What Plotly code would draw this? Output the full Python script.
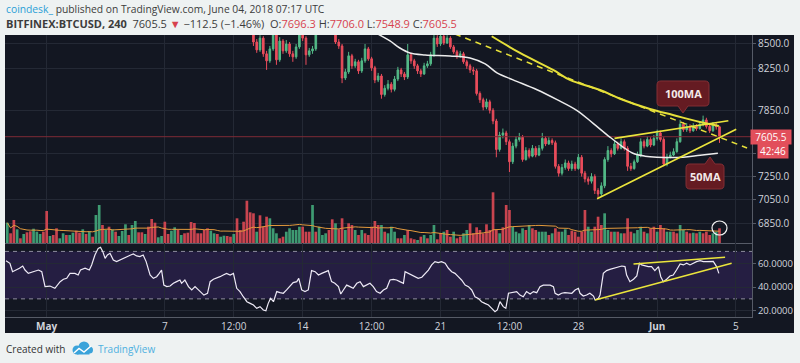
import numpy as np
import pandas as pd
import plotly.graph_objects as go
from plotly.subplots import make_subplots

W, H = 800, 363

# ---------------- data ----------------
# 4h bars, bar index 0 = May 1 2018 00:00 UTC
bar_start = 63
first_open = 8650
closes = [8520, 8440, 8560, 8400, 8330, 8450, 8600, 8340, 8530, 8430,
          8500, 8400, 8370, 8470, 8650, 8560, 8390, 8430, 8450, 8660,
          8720, 8760, 8800, 8750, 8700, 8520, 8480, 8160, 8220, 8380,
          8280, 8320, 8230, 8330, 8450, 8350, 8260, 8140, 8180, 8000,
          8060, 8100, 8050, 8150, 8240, 8200, 8170, 8390, 8330, 8280,
          8230, 8200, 8280, 8300, 8390, 8560, 8500, 8580, 8510, 8560,
          8470, 8420, 8380, 8400, 8320, 8280, 8240, 8230, 8010, 7950,
          7880, 7930, 7850, 7750, 7490, 7620, 7640, 7560, 7380, 7520,
          7580, 7600, 7400, 7480, 7430, 7500, 7440, 7500, 7590, 7540,
          7570, 7550, 7340, 7280, 7330, 7370, 7320, 7360, 7320, 7420,
          7280, 7230, 7210, 7250, 7130, 7100, 7170, 7400, 7480, 7450,
          7540, 7500, 7560, 7500, 7340, 7320, 7380, 7440, 7560, 7520,
          7580, 7530, 7590, 7640, 7580, 7360, 7420, 7440, 7470, 7560,
          7720, 7670, 7700, 7660, 7700, 7680, 7720, 7760, 7700, 7660,
          7710, 7696.3, 7605.5]
highs = [8700, 8550, 8590, 8580, 8430, 8480, 8640, 8620, 8570, 8550,
         8540, 8520, 8430, 8500, 8700, 8690, 8580, 8460, 8480, 8700,
         8760, 8800, 8850, 8830, 8780, 8720, 8550, 8500, 8250, 8420,
         8400, 8350, 8340, 8360, 8500, 8470, 8370, 8280, 8210, 8200,
         8090, 8140, 8120, 8180, 8270, 8260, 8220, 8500, 8410, 8350,
         8300, 8250, 8310, 8330, 8420, 8600, 8590, 8620, 8600, 8590,
         8580, 8490, 8440, 8430, 8420, 8340, 8300, 8270, 8250, 8030,
         7970, 7960, 7950, 7870, 7770, 7650, 7680, 7660, 7580, 7550,
         7610, 7640, 7620, 7510, 7500, 7530, 7520, 7530, 7640, 7610,
         7600, 7590, 7570, 7360, 7360, 7400, 7390, 7390, 7380, 7450,
         7440, 7300, 7250, 7280, 7270, 7150, 7200, 7420, 7520, 7500,
         7570, 7560, 7590, 7580, 7520, 7370, 7400, 7470, 7590, 7580,
         7610, 7600, 7620, 7670, 7660, 7600, 7450, 7470, 7500, 7590,
         7760, 7740, 7730, 7720, 7730, 7720, 7750, 7800, 7780, 7720,
         7740, 7740, 7706.0]
lows = [8480, 8410, 8420, 8370, 8240, 8310, 8430, 8290, 8320, 8400,
        8410, 8370, 8320, 8350, 8450, 8530, 8290, 8370, 8400, 8430,
        8640, 8700, 8740, 8720, 8670, 8500, 8450, 8110, 8140, 8200,
        8250, 8260, 8200, 8210, 8310, 8330, 8230, 8110, 8120, 7960,
        7980, 8040, 8020, 8030, 8130, 8170, 8140, 8150, 8300, 8250,
        8200, 8170, 8190, 8260, 8280, 8370, 8470, 8480, 8490, 8500,
        8450, 8400, 8350, 8360, 8300, 8250, 8210, 8190, 7990, 7920,
        7850, 7860, 7820, 7720, 7420, 7470, 7590, 7530, 7290, 7360,
        7500, 7560, 7380, 7390, 7410, 7420, 7420, 7430, 7480, 7520,
        7530, 7530, 7320, 7250, 7260, 7310, 7300, 7300, 7300, 7310,
        7250, 7200, 7180, 7190, 7100, 7060, 7080, 7150, 7380, 7420,
        7440, 7480, 7490, 7480, 7300, 7300, 7310, 7370, 7420, 7500,
        7510, 7510, 7520, 7570, 7560, 7340, 7340, 7410, 7430, 7460,
        7550, 7650, 7650, 7640, 7650, 7660, 7670, 7700, 7680, 7640,
        7650, 7670, 7548.9]

vol_start = -12
volumes = [10150, 4850, 11500, 6850, 2350, 4500, 5350, 5850, 7150, 5650,
           4500, 5650, 16000, 3500, 4000, 7350, 2350, 4850, 4000, 4000,
           5150, 6150, 5150, 6850, 4500, 5850, 3150, 14000, 19000, 9000,
           6500, 8150, 6850, 5650, 3500, 6000, 9350, 4000, 9000, 11000,
           5350, 5350, 4500, 8150, 12000, 10150, 2850, 3500, 10650, 4500,
           6150, 7850, 6500, 4000, 4850, 5150, 10500, 10000, 4850, 4850,
           6500, 7350, 6150, 4850, 4500, 3150, 3650, 3500, 3150, 4500,
           12350, 6500, 10650, 21150,
           15350, 14850, 5650, 13850, 8150, 13150, 12350, 7350, 4850, 2350,
           3150, 5650, 7350, 6500, 6500, 8150, 8150, 5650, 5650, 19000,
           5650, 8150, 4000, 4850, 6500, 11850, 9850, 6850, 12350, 6500,
           9850, 9000, 6500, 4000, 6500, 4850, 4000, 8150, 11000, 9000,
           9000, 5650, 4850, 8150, 5650, 2350, 2350, 4000, 6500, 2350,
           1850, 1500, 3150, 4000, 2350, 4000, 9000, 1850, 4850, 5650,
           6500, 3150, 5650, 2350, 3150, 4850, 6500, 9850, 4850, 7850,
           6500, 4850, 9350, 6500, 25350, 6500, 4850, 7850, 19000, 16500,
           8150, 5650, 4850,
           7350, 6500, 9000, 7350, 6500, 5650, 5650, 5650, 4000, 4850,
           7350, 5650, 5650, 6850, 4000, 6150, 5650, 3150, 5650, 16500,
           8150, 5650, 8150, 13150, 9000, 14850, 6500, 5650, 5650, 5650,
           4850, 4850, 12350, 5650, 4850, 6500, 8150, 5650, 4850, 7350,
           8150, 5650, 9000, 7350, 5650, 5650, 5650, 4850, 9000, 6500,
           5650, 4850, 5150, 4850, 5650, 4850, 5650, 4000, 4850, 5650,
           7350]
vol_dir = ("grrgrgrrgg" "grrgrrggrg" "grrgrgrggr" "grgrgggrgg" "rrgrrrggrr"
           "ggrgrrrrrr" "rrggrggrrg" "rrrr"
           "rrgrrrgggr" "rgggggrrrg" "rgggrrgrrg" "rrgrgrrrrr" "grgggrrgrr"
           "rgrgrggrrg" "rrgrrggrrr" "rrrrrrgrrr" "ggg"
           "grgrrgggrg" "rrggrrrrrr" "ggrrrggrgr" "grrrgggrgr" "rgrrggrrgg"
           "rrgrgrrrgg" "r")

rsi_bar = [-12.4, -11.2, -10.4, -9.2, -8.3, -7.3, -6.6, -5.6, -4.1, -2.5, -1.5, -0.5, 1.0, 2.5, 4.1,
           5.1, 6.1, 7.1, 8.6, 9.6, 10.3, 11.7, 13.0, 13.7, 14.7, 15.7, 16.4, 17.1, 17.8, 18.5,
           19.3, 20.3, 21.3, 22.3, 23.4, 24.4, 25.6, 26.4, 27.4, 28.4, 29.4, 30.3, 31.5, 32.5, 33.5,
           34.3, 35.0, 35.7, 36.6, 37.6, 38.6, 39.6, 40.6, 41.1, 42.1, 43.2, 44.2, 45.2, 46.2, 47.2,
           47.9, 49.0, 49.8, 50.8, 51.8, 52.8, 53.8, 54.8, 55.9, 56.9, 57.9, 58.9, 59.9, 61.0, 62.0,
           63.0, 64.0, 65.0, 66.0, 66.8, 67.5, 68.2, 69.1, 70.1, 71.1, 72.1, 73.1, 74.1, 75.1, 76.2,
           76.8, 77.7, 78.7, 79.7, 80.7, 81.8, 82.8, 83.8, 84.8, 85.8, 86.8, 87.8, 88.9, 89.6, 90.4,
           91.4, 92.4, 93.4, 94.5, 95.5, 96.5, 97.5, 98.5, 99.5, 100.5, 101.6, 102.6, 103.6, 104.6, 105.6,
           106.6, 107.6, 108.7, 109.2, 110.2, 111.2, 112.2, 113.2, 114.3, 115.3, 116.3, 117.3, 118.3, 119.3,
           120.3, 121.4, 122.4, 123.4, 124.4, 125.4, 126.4, 127.5, 128.5, 129.5, 130.5, 131.5, 132.5, 133.5,
           134.6, 135.6, 136.6, 137.3, 138.1, 139.1, 139.9, 140.7, 142.2, 143.2, 144.2, 145.2, 146.2, 147.3,
           148.3, 149.3, 150.3, 151.3, 152.3, 153.4, 154.4, 154.9, 155.9, 156.9, 157.9, 158.9, 160.0, 161.0,
           162.0, 162.5, 163.5, 164.5, 165.5, 166.6, 167.1, 168.1, 168.6, 169.6, 170.6, 171.6, 172.7, 174.2,
           175.2, 176.2, 176.7, 177.7, 178.8, 179.8, 180.6, 181.3, 182.3, 183.3, 184.3, 185.3, 186.4, 187.1,
           187.9, 188.9, 189.9, 190.9, 191.9, 193.0, 194.0, 195.0, 196.0, 197.0, 198.0, 199.1, 200.1, 201.1,
           202.1, 203.1, 204.1, 204.8]
rsi_val = [62.2, 60.0, 52.9, 54.3, 55.8, 57.7, 54.3, 51.5, 52.9, 54.3, 52.9, 40.3, 40.8, 38.9, 44.5,
           46.5, 47.3, 51.5, 51.5, 50.1, 54.3, 55.8, 54.3, 58.6, 67.0, 72.6, 73.5, 69.8, 64.2, 67.0,
           68.4, 62.8, 61.4, 62.8, 64.2, 65.6, 67.0, 67.8, 66.2, 65.6, 67.0, 61.4, 50.1, 47.3, 48.7,
           51.5, 54.3, 41.6, 40.3, 40.8, 43.1, 44.5, 45.9, 43.1, 45.9, 40.3, 37.5, 40.3, 37.5, 34.7,
           33.2, 34.7, 44.5, 46.5, 47.3, 48.7, 50.1, 51.5, 50.1, 51.5, 38.9, 36.1, 31.8, 27.6, 26.2,
           24.8, 22.0, 23.4, 20.6, 20.0, 26.2, 30.4, 27.6, 36.1, 35.2, 34.7, 37.5, 40.3, 43.7, 44.5,
           47.3, 37.5, 36.1, 37.5, 53.8, 52.9, 50.1, 51.5, 52.9, 53.8, 44.5, 43.1, 40.3, 34.1, 37.5,
           41.6, 40.3, 38.9, 43.1, 44.5, 40.3, 41.6, 43.1, 40.3, 36.1, 34.7, 37.5, 38.9, 45.9, 46.5,
           45.9, 44.5, 43.1, 52.9, 51.5, 50.1, 48.7, 47.3, 48.2, 51.5, 54.3, 58.6, 61.4, 60.5,
           61.4, 60.0, 55.8, 52.9, 51.5, 48.7, 45.9, 41.6, 40.3, 37.5, 31.8, 30.4, 27.6, 26.2,
           24.8, 22.0, 19.2, 20.6, 27.6, 23.4, 22.0, 34.7, 35.2, 36.1, 33.2, 31.8, 36.1, 34.1,
           36.1, 35.2, 40.3, 41.6, 41.6, 41.6, 40.3, 34.7, 33.2, 34.7, 35.2, 34.7, 34.7, 37.5,
           38.9, 34.7, 32.4, 33.2, 34.7, 32.4, 29.0, 30.4, 33.2, 51.5, 53.8, 54.9, 55.8, 56.6,
           57.7, 57.2, 50.1, 44.5, 46.5, 49.3, 60.0, 58.6, 57.7, 57.2, 57.2, 53.8, 57.2, 48.7,
           44.5, 46.5, 49.3, 50.1, 54.3, 59.4, 58.6, 60.0, 58.6, 60.0, 61.4, 62.2, 61.4, 61.4,
           61.6, 61.6, 57.2, 51.5]

ma50_bar = [100.9, 104.6, 107.6, 110.7, 115.3, 122.9, 129.0, 133.6, 137.2, 142.1, 149.4,
            155.5, 161.6, 166.5, 171.6, 175.3, 178.6, 182.3, 185.9, 193.9, 199.1, 204.5]
ma50_val = [8602, 8531, 8459, 8409, 8389, 8379, 8359, 8299, 8210, 8142, 8046,
            7951, 7848, 7728, 7602, 7518, 7456, 7430, 7421, 7421, 7439, 7456]
ma100_bar = [135.6, 144.2, 154.3, 159.4, 168.6, 174.7, 183.8, 190.8, 199.0, 204.8]
ma100_val = [8579, 8409, 8239, 8142, 8044, 7960, 7862, 7806, 7741, 7704]
down_trend_bar = [124.4, 213.4]
down_trend_val = [8602, 7503]
wedge_low_bar = [167.7, 210.1]
wedge_low_val = [7060, 7673]
wedge_up_bar = [173.0, 207.7]
wedge_up_val = [7590, 7753]
rsi_low_bar = [167.1, 208.7]
rsi_low_val = [29.0, 60.0]
rsi_up_bar = [178.8, 206.7]
rsi_up_val = [59.4, 65.0]

last_price = 7605.5
countdown = "42:46"

x_tick_bars = [0, 36, 57, 78, 99, 120, 141, 162, 186, 210]
x_tick_text = ['<b>May</b>', '7', '12:00', '14', '12:00', '21', '12:00', '28', '<b>Jun</b>', '5']
price_ticks = [6850, 7050, 7250, 7450, 7850, 8250, 8500]
price_tick_text = ['6850.0', '7050.0', '7250.0', '', '7850.0', '8250.0', '8500.0']  # 7450 hidden by tag
rsi_ticks = [20, 40, 60]

# ---------------- helpers ----------------
def px(x):
    return x / W

def py(y):
    return (H - y) / H

BG = '#131722'
GRID = '#242935'
AXL = '#565b67'
TXT = '#d1d4dc'
UP = '#53b987'
DN = '#eb4d5c'
FONT = 'Open Sans'

bars = list(range(bar_start, bar_start + len(closes)))
opens = [first_open] + closes[:-1]
vbars = list(range(vol_start, vol_start + len(volumes)))
vcolors = ['#3e9b72' if d == 'g' else '#c9444f' for d in vol_dir]
vol_ma = pd.Series(volumes).rolling(20, min_periods=1).mean()

fig = make_subplots(rows=2, cols=1, shared_xaxes=True, vertical_spacing=0,
                    row_heights=[0.74, 0.26],
                    specs=[[{"secondary_y": True}], [{}]])

# volume (primary axis of row 1)
fig.add_trace(go.Bar(x=vbars, y=volumes, marker=dict(color=vcolors, line=dict(width=0)),
                     hoverinfo='skip'), row=1, col=1, secondary_y=False)
fig.add_trace(go.Scatter(x=vbars, y=vol_ma, mode='lines',
                         line=dict(color='#e39a3c', width=1), hoverinfo='skip'),
              row=1, col=1, secondary_y=False)

# price (overlay axis)
fig.add_trace(go.Scatter(x=[-14, 216], y=[last_price, last_price], mode='lines',
                         line=dict(color='#7e2b35', width=1), hoverinfo='skip'),
              row=1, col=1, secondary_y=True)
fig.add_trace(go.Candlestick(x=bars, open=opens, high=highs, low=lows, close=closes,
                             increasing=dict(line=dict(color=UP, width=1), fillcolor=UP),
                             decreasing=dict(line=dict(color=DN, width=1), fillcolor=DN),
                             whiskerwidth=0, hoverinfo='skip'),
              row=1, col=1, secondary_y=True)
fig.add_trace(go.Scatter(x=ma50_bar, y=ma50_val, mode='lines', line=dict(color='#ececec', width=1.5, shape='spline'),
                         hoverinfo='skip'), row=1, col=1, secondary_y=True)
fig.add_trace(go.Scatter(x=ma100_bar, y=ma100_val, mode='lines', line=dict(color='#e6e03a', width=2, shape='spline'),
                         hoverinfo='skip'), row=1, col=1, secondary_y=True)
fig.add_trace(go.Scatter(x=down_trend_bar, y=down_trend_val, mode='lines',
                         line=dict(color='#e6e03a', width=1.5, dash='6px,5px'),
                         hoverinfo='skip'), row=1, col=1, secondary_y=True)
for bx, bv in ((wedge_low_bar, wedge_low_val), (wedge_up_bar, wedge_up_val)):
    fig.add_trace(go.Scatter(x=bx, y=bv, mode='lines', line=dict(color='#ebe53c', width=1.6),
                             hoverinfo='skip'), row=1, col=1, secondary_y=True)

# RSI
fig.add_trace(go.Scatter(x=rsi_bar, y=rsi_val, mode='lines', line=dict(color='#eeeaf6', width=1.2),
                         hoverinfo='skip'), row=2, col=1)
for bx, bv in ((rsi_low_bar, rsi_low_val), (rsi_up_bar, rsi_up_val)):
    fig.add_trace(go.Scatter(x=bx, y=bv, mode='lines', line=dict(color='#ebe53c', width=1.5),
                             hoverinfo='skip'), row=2, col=1)

tickfont = dict(family=FONT, size=10, color=TXT)
xcommon = dict(range=[-12.7, 214.9], domain=[px(5), px(752)], showgrid=True, gridcolor=GRID,
               gridwidth=1, tickvals=x_tick_bars, ticktext=x_tick_text, zeroline=False,
               showline=True, linecolor=AXL, linewidth=1, ticks='')
fig.update_xaxes(**xcommon)
fig.update_xaxes(showticklabels=False, rangeslider=dict(visible=False), row=1, col=1)
fig.update_xaxes(showticklabels=True, tickfont=tickfont, row=2, col=1)

fig.update_layout(
    width=W, height=H, margin=dict(l=0, r=0, t=0, b=0),
    paper_bgcolor='#eef2f2', plot_bgcolor=BG, showlegend=False, bargap=0.18,
    hovermode=False,
    yaxis=dict(domain=[py(243), py(35)], range=[0, 208 * 500], visible=False, showgrid=False,
               fixedrange=True),
    yaxis2=dict(type='log', range=[np.log10(6695), np.log10(8592)], side='right',
                tickvals=price_ticks, ticktext=price_tick_text,
                showgrid=True, gridcolor=GRID, ticks='outside', ticklen=3, tickcolor=AXL,
                showline=True, linecolor=AXL, tickfont=tickfont, zeroline=False),
    yaxis3=dict(domain=[py(317), py(243)], range=[14.7, 77.1], side='right',
                tickvals=rsi_ticks, ticktext=[f'{v:.4f}' for v in rsi_ticks],
                showgrid=True, gridcolor=GRID, ticks='outside', ticklen=3, tickcolor=AXL,
                showline=True, linecolor=AXL, tickfont=dict(family=FONT, size=9.5, color=TXT),
                zeroline=False),
)

shapes = []
# dark chart background
shapes.append(dict(type='rect', xref='paper', yref='paper', x0=px(5), x1=px(794),
                   y0=py(333), y1=py(35), fillcolor=BG, line=dict(width=0), layer='below'))
# RSI band and dashed bounds
shapes.append(dict(type='rect', xref='x2 domain', yref='y3', x0=0, x1=1, y0=30, y1=70,
                   fillcolor='#251e42', line=dict(width=0), layer='below'))
for lvl in (30, 70):
    shapes.append(dict(type='line', xref='x2 domain', yref='y3', x0=0, x1=1, y0=lvl, y1=lvl,
                       line=dict(color='#8d8c9e', width=1, dash='4px,4px'), layer='below'))


def path_from(cmds):
    out = []
    for c in cmds:
        if isinstance(c, str):
            out.append(c)
        else:
            out.append(f'{px(c[0]):.5f},{py(c[1]):.5f}')
    return ' '.join(out)


def callout(x0, y0, x1, y1, r, ptr_x, tip_y, bottom):
    if bottom:
        cmds = ['M', (x0 + r, y0), 'L', (x1 - r, y0), 'Q', (x1, y0), (x1, y0 + r),
                'L', (x1, y1 - r), 'Q', (x1, y1), (x1 - r, y1),
                'L', (ptr_x + 5, y1), 'L', (ptr_x, tip_y), 'L', (ptr_x - 5, y1),
                'L', (x0 + r, y1), 'Q', (x0, y1), (x0, y1 - r), 'L', (x0, y0 + r),
                'Q', (x0, y0), (x0 + r, y0), 'Z']
    else:
        cmds = ['M', (x0 + r, y0), 'L', (ptr_x - 5, y0), 'L', (ptr_x, tip_y), 'L', (ptr_x + 5, y0),
                'L', (x1 - r, y0), 'Q', (x1, y0), (x1, y0 + r),
                'L', (x1, y1 - r), 'Q', (x1, y1), (x1 - r, y1),
                'L', (x0 + r, y1), 'Q', (x0, y1), (x0, y1 - r), 'L', (x0, y0 + r),
                'Q', (x0, y0), (x0 + r, y0), 'Z']
    return dict(type='path', xref='paper', yref='paper', path=path_from(cmds),
                fillcolor='#6a1c22', line=dict(color='#8a3036', width=1), opacity=0.95, layer='above')


shapes.append(callout(657, 81, 709, 106, 4, 683, 113, True))
shapes.append(callout(686, 164, 724, 189, 4, 710, 157, False))
# white circle around last volume bar
shapes.append(dict(type='circle', xref='paper', yref='paper', x0=px(712), x1=px(727),
                   y0=py(235), y1=py(221), line=dict(color='#f2f2f2', width=1.2), layer='above'))
# TradingView logo (footer)
for cx, cy, r in ((77, 350, 4.5), (84, 347, 5.5), (89.5, 350, 3.5)):
    shapes.append(dict(type='circle', xref='paper', yref='paper', x0=px(cx - r), x1=px(cx + r),
                       y0=py(cy + r), y1=py(cy - r), fillcolor='#3aa3da', line=dict(width=0),
                       layer='above'))
shapes.append(dict(type='rect', xref='paper', yref='paper', x0=px(77), x1=px(89.5), y0=py(354.5),
                   y1=py(349), fillcolor='#3aa3da', line=dict(width=0), layer='above'))
shapes.append(dict(type='path', xref='paper', yref='paper',
                   path=path_from(['M', (74, 353), 'L', (79, 348.5), 'L', (84, 352), 'L', (91, 346)]),
                   line=dict(color='#ffffff', width=1.4), layer='above'))
fig.update_layout(shapes=shapes)

ann = []
ann.append(dict(xref='paper', yref='paper', x=px(4), y=py(9.5), xanchor='left', yanchor='middle',
                showarrow=False, font=dict(family=FONT, size=10.3, color='#3c3c3c'),
                text='<span style="color:#2a9fd6">coindesk_</span> published on TradingView.com, '
                     'June 04, 2018 07:17 UTC'))
red = '#d7424e'
ann.append(dict(xref='paper', yref='paper', x=px(4), y=py(23.5), xanchor='left', yanchor='middle',
                showarrow=False, font=dict(family=FONT, size=11, color='#3c3c3c'),
                text=f'<b>BITFINEX:BTCUSD, 240</b>  7605.5 <span style="color:{red}">▼</span> '
                     f'−112.5 (−1.46%)  O:<span style="color:{red}">7696.3</span> '
                     f'H:<span style="color:{red}">7706.0</span> '
                     f'L:<span style="color:{red}">7548.9</span> '
                     f'C:<span style="color:{red}">7605.5</span>'))
ann.append(dict(xref='paper', yref='paper', x=px(4), y=py(349), xanchor='left', yanchor='middle',
                showarrow=False, font=dict(family=FONT, size=10, color='#333333'),
                text='Created with'))
ann.append(dict(xref='paper', yref='paper', x=px(96), y=py(349), xanchor='left', yanchor='middle',
                showarrow=False, font=dict(family=FONT, size=10, color='#4db0e0'),
                text='TradingView'))
# price tags on the right axis
ann.append(dict(xref='paper', yref='paper', x=px(771), y=py(136.5), xanchor='center', yanchor='middle',
                showarrow=False, text=f'{last_price:.1f}', bgcolor='#e24f5b', width=38, height=12,
                font=dict(family=FONT, size=10, color='#ffffff')))
ann.append(dict(xref='paper', yref='paper', x=px(773), y=py(151), xanchor='center', yanchor='middle',
                showarrow=False, text=countdown, bgcolor='#e24f5b', width=28, height=12,
                font=dict(family=FONT, size=10, color='#ffffff')))
ann.append(dict(xref='paper', yref='paper', x=px(683), y=py(93.5), xanchor='center', yanchor='middle',
                showarrow=False, text='<b>100MA</b>', font=dict(family=FONT, size=11, color='#f3e9e9')))
ann.append(dict(xref='paper', yref='paper', x=px(705), y=py(176.5), xanchor='center', yanchor='middle',
                showarrow=False, text='<b>50MA</b>', font=dict(family=FONT, size=11, color='#f3e9e9')))
fig.update_layout(annotations=ann)

fig.write_html("out.html", include_plotlyjs=True,
               config={'displayModeBar': False, 'staticPlot': True},
               post_script="document.body.style.margin='0';document.body.style.overflow='hidden';")
